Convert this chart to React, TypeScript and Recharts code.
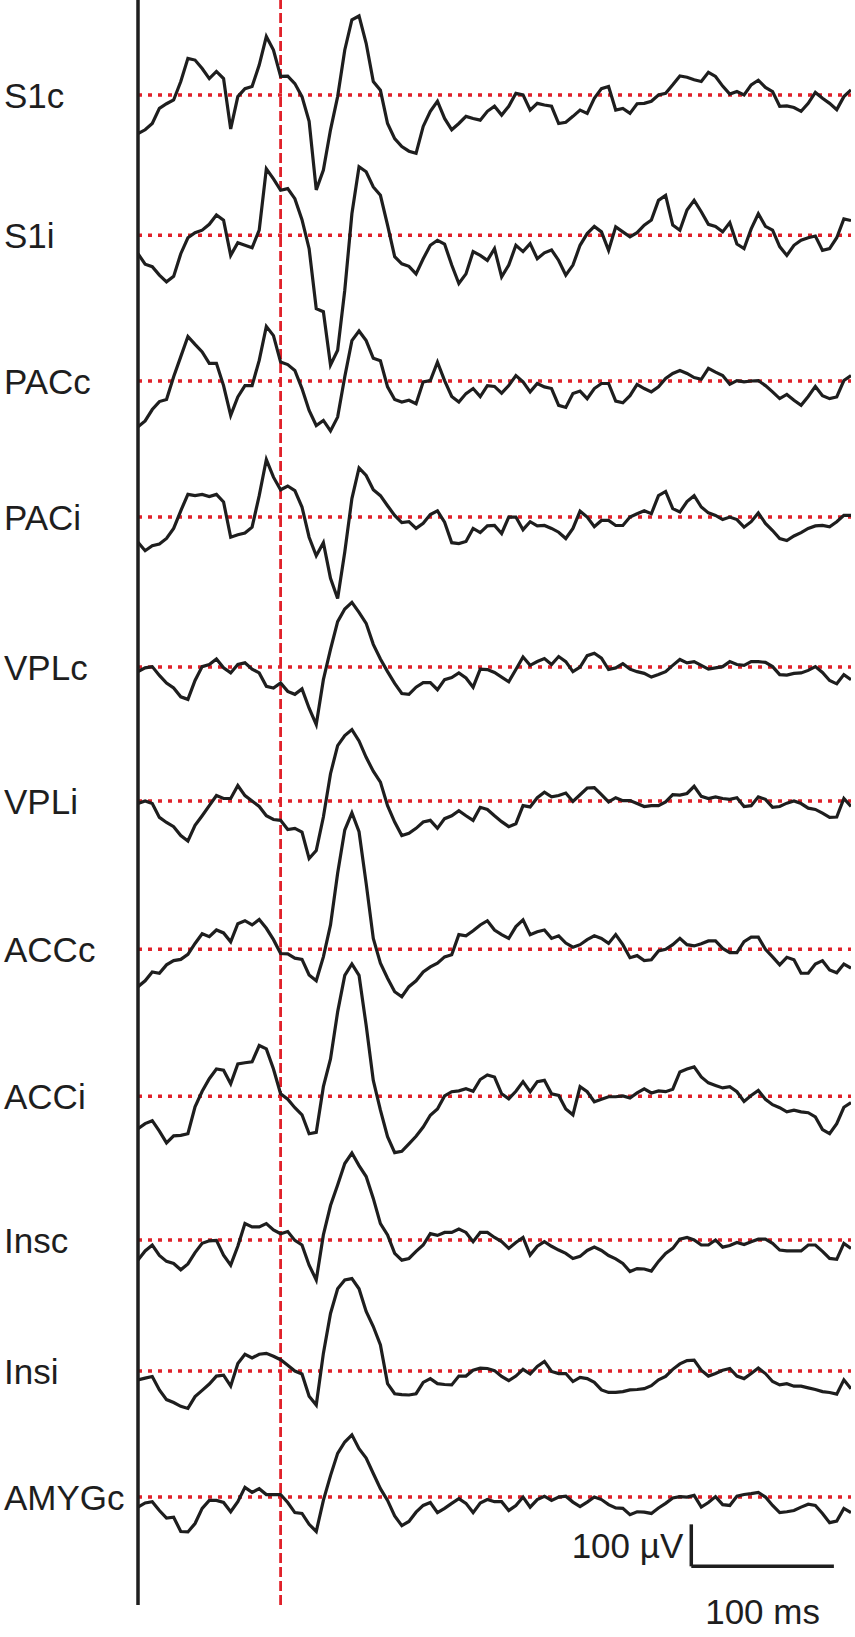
import { LineChart, Line, XAxis, YAxis, ReferenceLine } from 'recharts'

// time (ms) relative to the stimulus
const times = [
  -100, -95, -90, -85, -80, -75, -70, -65, -60, -55,
  -50, -45, -40, -35, -30, -25, -20, -15, -10, -5,
  0, 5, 10, 15, 20, 25, 30, 35, 40, 45,
  50, 55, 60, 65, 70, 75, 80, 85, 90, 95,
  100, 105, 110, 115, 120, 125, 130, 135, 140, 145,
  150, 155, 160, 165, 170, 175, 180, 185, 190, 195,
  200, 205, 210, 215, 220, 225, 230, 235, 240, 245,
  250, 255, 260, 265, 270, 275, 280, 285, 290, 295,
  300, 305, 310, 315, 320, 325, 330, 335, 340, 345,
  350, 355, 360, 365, 370, 375, 380, 385, 390, 395,
  400,
]

const channels = ['S1c', 'S1i', 'PACc', 'PACi', 'VPLc', 'VPLi', 'ACCc', 'ACCi', 'Insc', 'Insi', 'AMYGc']

// evoked potentials, µV
const s1c = [
  -92, -83, -68, -32, -21, -12, 32, 87, 83, 63,
  39, 56, 39, -81, -4, 15, 20, 71, 139, 107,
  44, 45, 27, -4, -63, -226, -179, -83, -4, 107,
  179, 188, 123, 32, 11, -68, -104, -123, -134, -139,
  -75, -39, -15, -56, -83, -68, -51, -56, -60, -39,
  -27, -48, -27, 4, 0, -36, -20, -24, -27, -68,
  -65, -51, -36, -44, -8, 15, 20, -36, -32, -44,
  -21, -20, -15, 0, 4, 24, 45, 42, 36, 32,
  54, 44, 21, 2, 8, 0, 24, 35, 18, 8,
  -27, -26, -30, -39, -20, 6, -8, -20, -35, -4,
  12,
]
const s1i = [
  -44, -69, -75, -95, -111, -98, -44, -6, 6, 12,
  26, 48, 36, -48, -18, -24, -30, 12, 158, 134,
  107, 111, 87, 37, -32, -175, -182, -309, -274, -131,
  51, 163, 151, 115, 95, 24, -51, -68, -74, -92,
  -56, -24, -12, -21, -71, -115, -92, -39, -48, -60,
  -32, -99, -71, -24, -39, -20, -56, -42, -35, -60,
  -95, -71, -24, 4, 21, 8, -36, 20, 8, -4,
  6, 24, 36, 83, 95, 24, 12, 60, 83, 56,
  26, 21, 8, 30, -21, -32, 15, 51, 21, 12,
  -27, -48, -24, -12, -6, -2, -36, -32, -6, 39,
  35,
]
const pacc = [
  -109, -95, -68, -49, -44, 10, 58, 106, 87, 69,
  42, 42, -11, -82, -38, -11, -11, 49, 130, 108,
  45, 39, 25, -18, -70, -106, -94, -119, -86, 10,
  96, 119, 96, 54, 48, -14, -44, -50, -46, -54,
  -2, 1, 45, 1, -37, -50, -30, -18, -37, -11,
  -13, -29, -11, 13, -2, -26, -6, -14, -18, -58,
  -63, -30, -24, -42, -18, -6, -6, -48, -52, -35,
  -8, -18, -26, -14, 6, 18, 25, 18, 8, 4,
  30, 21, 13, -8, 1, -2, 0, 1, -11, -26,
  -42, -32, -46, -58, -37, -13, -35, -42, -38, 1,
  13,
]
const paci = [
  -60, -80, -68, -64, -51, -27, 15, 54, 51, 54,
  49, 54, 36, -48, -42, -38, -24, 51, 137, 95,
  65, 74, 63, 24, -48, -92, -61, -146, -194, -83,
  44, 117, 99, 65, 51, 27, 4, -13, -11, -27,
  -15, 6, 15, -12, -61, -63, -58, -27, -37, -21,
  -20, -39, 0, 0, -30, -11, -21, -20, -27, -36,
  -51, -27, 14, 0, -23, -8, -8, -20, -20, 0,
  8, 15, 8, 51, 61, 20, 12, 37, 51, 24,
  10, 4, -6, 0, -6, -24, -11, 10, -15, -32,
  -51, -56, -45, -37, -27, -21, -20, -23, -11, 4,
  4,
]
const vplc = [
  -11, -2, 1, -20, -38, -50, -71, -77, -32, 1,
  6, 19, -2, -14, 6, 10, -5, -14, -46, -50,
  -38, -58, -65, -52, -98, -137, -30, 42, 108, 138,
  154, 130, 104, 54, 19, -11, -39, -63, -65, -48,
  -37, -37, -54, -30, -25, -14, -26, -48, -5, -6,
  -13, -24, -35, -6, 24, 4, 13, 20, 6, 25,
  13, -11, 0, 27, 33, 21, -6, -2, 8, -5,
  -11, -15, -24, -18, -11, 4, 18, 10, 13, 4,
  -5, -2, 1, 13, 6, 4, 13, 13, 11, 1,
  -18, -19, -15, -14, -8, 1, -13, -32, -40, -18,
  -30,
]
const vpli = [
  -6, 0, -6, -39, -51, -61, -82, -95, -58, -35,
  -11, 13, 6, 6, 37, 13, 0, -13, -35, -44,
  -46, -68, -65, -74, -137, -118, -38, 65, 132, 156,
  170, 143, 104, 71, 45, -11, -50, -82, -77, -65,
  -50, -46, -65, -42, -35, -23, -35, -46, -15, -20,
  -35, -49, -61, -54, -11, -14, 8, 21, 10, 13,
  19, -1, 15, 31, 32, 15, -2, 8, 1, 1,
  -6, -13, -11, -11, -2, 15, 14, 18, 35, 11,
  6, 10, 6, 4, 8, -13, -11, 10, 4, -15,
  -13, -5, 0, -6, -17, -20, -29, -39, -38, 6,
  -13,
]
const accc = [
  -89, -75, -54, -57, -37, -27, -24, -12, 14, 37,
  30, 46, 39, 18, 61, 68, 58, 71, 50, 23,
  -10, -11, -21, -24, -61, -75, -18, 58, 181, 284,
  325, 280, 157, 26, -33, -69, -101, -113, -89, -75,
  -54, -42, -33, -18, -13, 35, 32, 44, 58, 68,
  46, 35, 26, 54, 70, 35, 42, 46, 26, 32,
  15, 5, 11, 23, 32, 26, 14, 35, 11, -20,
  -15, -27, -25, -4, 0, 11, 26, 11, 8, 13,
  20, 20, 2, -8, -8, 18, 29, 29, 0, -18,
  -37, -19, -25, -57, -57, -35, -27, -49, -56, -35,
  -45,
]
const acci = [
  -77, -65, -58, -83, -111, -94, -93, -89, -25, 12,
  42, 65, 62, 30, 77, 80, 82, 121, 113, 65,
  6, -7, -27, -44, -89, -86, 23, 89, 201, 288,
  315, 288, 169, 38, -33, -96, -134, -131, -113, -95,
  -73, -45, -30, 1, 11, 13, 18, 12, 40, 51,
  46, 6, -6, 12, 35, 11, 35, 38, 6, 2,
  -30, -44, 23, 11, -13, -7, -1, -1, 1, -4,
  8, 18, 8, 13, 11, 17, 58, 65, 70, 46,
  32, 26, 20, 23, 11, -12, 2, 14, -7, -20,
  -27, -37, -33, -37, -39, -49, -79, -89, -65, -26,
  -15,
]
const insc = [
  -48, -26, -12, -37, -51, -56, -71, -57, -30, -8,
  -2, -1, -36, -60, -15, 39, 31, 31, 39, 24,
  15, 20, -1, -12, -60, -95, 12, 82, 131, 182,
  207, 177, 151, 99, 39, 12, -32, -48, -44, -27,
  -12, 15, 11, 18, 18, 26, 18, -4, 18, 18,
  6, -4, -20, -6, 6, -36, -15, -4, -15, -24,
  -32, -44, -39, -25, -17, -25, -37, -45, -56, -75,
  -68, -69, -74, -51, -32, -20, 2, 6, 0, -12,
  -12, 0, -17, -13, -6, -11, -4, 2, 2, -8,
  -24, -26, -26, -26, -12, -12, -27, -44, -46, -8,
  -20,
]
const insi = [
  -21, -17, -13, -45, -68, -75, -84, -89, -61, -46,
  -31, -12, -10, -36, 18, 40, 31, 40, 42, 35,
  27, 14, 0, -7, -60, -81, 42, 137, 196, 217,
  220, 196, 142, 106, 62, -30, -54, -56, -57, -54,
  -27, -18, -30, -32, -33, -12, -12, 2, 7, 6,
  1, -13, -23, -12, 4, -7, 11, 23, -1, -6,
  -6, -25, -15, -18, -27, -45, -51, -51, -49, -45,
  -44, -42, -35, -21, -13, 4, 17, 25, 26, 2,
  -12, -6, 2, 6, -12, -18, -6, 7, -6, -25,
  -33, -30, -36, -36, -40, -44, -49, -51, -55, -21,
  -42,
]
const amygc = [
  -24, -14, -11, -32, -50, -48, -82, -83, -63, -27,
  -8, -8, -13, -35, -11, 23, 11, 20, 6, 6,
  6, -13, -37, -39, -65, -82, -8, 51, 104, 131,
  148, 115, 93, 56, 20, -8, -45, -68, -58, -36,
  -20, -13, -37, -27, -15, -4, -15, -37, -14, -6,
  -11, -11, -32, -20, 0, -24, -6, 2, -8, 0,
  2, -12, -23, -12, 0, -6, -18, -26, -27, -42,
  -35, -36, -39, -26, -15, -2, 1, 0, 4, -24,
  -13, 1, -18, -20, 2, 6, 8, 11, 0, -20,
  -37, -35, -32, -24, -17, -20, -39, -61, -57, -27,
  -37,
]

const series = [s1c, s1i, pacc, paci, vplc, vpli, accc, acci, insc, insi, amygc]

// vertical stacking of the traces, in µV on the shared axis
const offsets = [-226, -560, -907, -1231, -1588, -1907, -2260, -2610, -2952, -3264, -3564]

const RED = '#e0212a'
const INK = '#1e1e1e'

const chartData = times.map((t, i) => {
  const row: Record<string, number> = { t }
  channels.forEach((name, k) => {
    row[name] = series[k][i] + offsets[k]
  })
  return row
})

function ChannelTick({ y, payload }: { y?: number; payload?: { value: number } }) {
  const idx = offsets.indexOf(payload?.value ?? 0)
  return (
    <text x={4} y={y} dy="0.36em" fontSize={35} fill={INK}>
      {channels[idx]}
    </text>
  )
}

export default function App() {
  return (
    <div
      style={{
        position: 'absolute',
        left: 0,
        top: 0,
        width: 855,
        height: 1637,
        background: '#fff',
        fontFamily: '"Liberation Sans", Arial, sans-serif',
      }}
    >
      <LineChart
        width={855}
        height={1637}
        data={chartData}
        margin={{ top: 0, right: 4, bottom: 32, left: 0 }}
      >
        <XAxis type="number" dataKey="t" domain={[-100, 400]} allowDataOverflow hide />
        <YAxis
          type="number"
          domain={[-3821, 0]}
          allowDataOverflow
          ticks={offsets}
          interval={0}
          width={138}
          tickLine={false}
          axisLine={{ stroke: INK, strokeWidth: 3.5 }}
          tick={<ChannelTick />}
        />

        {/* baselines */}
        {offsets.map((y) => (
          <ReferenceLine key={y} y={y} stroke={RED} strokeWidth={3.5} strokeDasharray="4 6" />
        ))}

        {/* stimulus onset */}
        <ReferenceLine x={0} stroke={RED} strokeWidth={2.8} strokeDasharray="10 4" />

        {/* traces */}
        {channels.map((name) => (
          <Line
            key={name}
            type="linear"
            dataKey={name}
            stroke={INK}
            strokeWidth={3.2}
            dot={false}
            activeDot={false}
            isAnimationActive={false}
          />
        ))}

        {/* scale bars */}
        <ReferenceLine
          segment={[
            { x: 288, y: -3729 },
            { x: 288, y: -3629 },
          ]}
          stroke={INK}
          strokeWidth={3.5}
          label={{ value: '100 µV', position: 'left', offset: 8, fontSize: 35, fill: INK }}
        />
        <ReferenceLine
          segment={[
            { x: 288, y: -3729 },
            { x: 388, y: -3729 },
          ]}
          stroke={INK}
          strokeWidth={3.5}
          label={{ value: '100 ms', position: 'bottom', offset: 33, fontSize: 35, fill: INK }}
        />
      </LineChart>
    </div>
  )
}
